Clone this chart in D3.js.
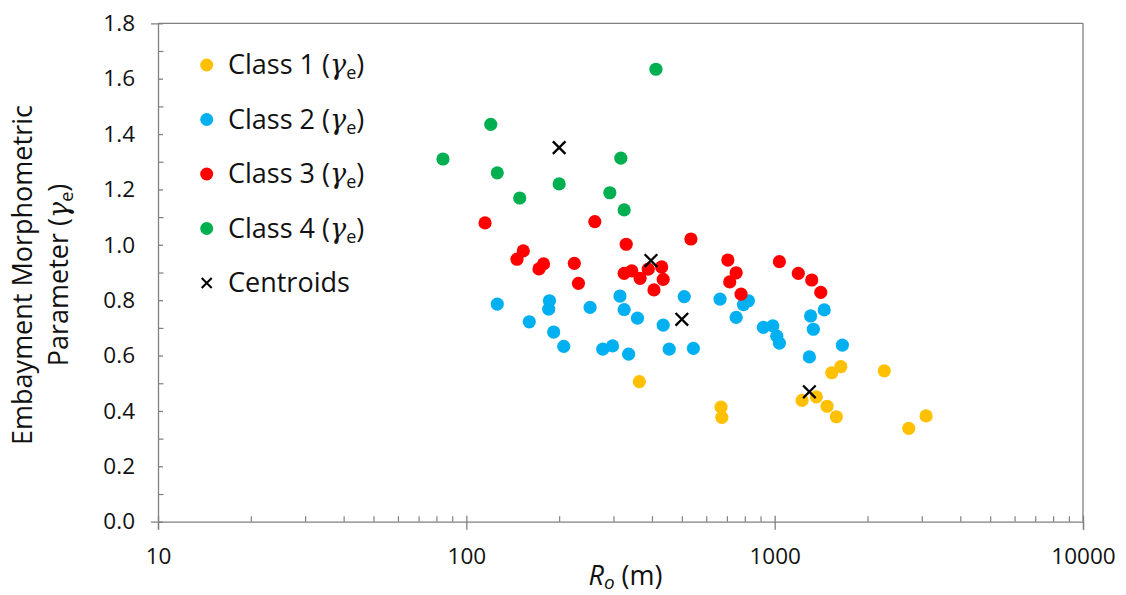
<!DOCTYPE html>
<html>
<head>
<meta charset="utf-8">
<script src="https://cdn.jsdelivr.net/npm/d3@7"></script>
<style>
  html, body { margin: 0; padding: 0; background: #fff; }
  svg { display: block; font-family: "Open Sans", "Liberation Sans", sans-serif; }
</style>
</head>
<body>
<svg id="chart" width="1126" height="595"></svg>
<script>
// ---- Data ----
const class1Ro = [364, 670, 674, 1532, 1639, 2268, 1227, 1365, 1479, 1585, 2722, 3098];
const class1Ge = [0.506, 0.414, 0.377, 0.538, 0.560, 0.545, 0.438, 0.451, 0.417, 0.379, 0.337, 0.382];

const class2Ro = [126, 186, 185, 160, 252, 192, 207, 277, 298, 315, 325, 359, 336, 509, 435, 455, 545, 665, 792, 822, 750, 919, 986, 1016, 1036, 1308, 1448, 1335, 1296, 1658];
const class2Ge = [0.786, 0.798, 0.768, 0.722, 0.774, 0.685, 0.633, 0.623, 0.635, 0.815, 0.766, 0.735, 0.605, 0.813, 0.710, 0.623, 0.626, 0.804, 0.784, 0.798, 0.738, 0.702, 0.707, 0.670, 0.645, 0.743, 0.765, 0.695, 0.595, 0.638];

const class3Ro = [115, 261, 535, 330, 153, 146, 178, 172, 224, 231, 325, 344, 366, 389, 430, 435, 406, 705, 750, 715, 778, 1036, 1193, 1319, 1411];
const class3Ge = [1.079, 1.084, 1.021, 1.002, 0.978, 0.948, 0.931, 0.913, 0.933, 0.861, 0.897, 0.906, 0.879, 0.912, 0.920, 0.875, 0.837, 0.945, 0.899, 0.866, 0.822, 0.939, 0.897, 0.873, 0.828];

const class4Ro = [412, 120, 84, 126, 200, 317, 149, 292, 325];
const class4Ge = [1.634, 1.435, 1.310, 1.260, 1.220, 1.313, 1.169, 1.188, 1.126];

const centroidRo = [1296, 500, 397, 200];
const centroidGe = [0.469, 0.731, 0.943, 1.351];

const seriesNames = ["Class 1", "Class 2", "Class 3", "Class 4"];
const seriesColors = ["#FFC000", "#00B0F0", "#FF0000", "#00B050"];
const xTickValues = [10, 100, 1000, 10000];
const yTickValues = [0, 0.2, 0.4, 0.6, 0.8, 1.0, 1.2, 1.4, 1.6, 1.8];

// ---- Layout ----
const svg = d3.select("#chart");
const plotL = 158, plotR = 1083, plotT = 23.3, plotB = 521.7;
const axisColor = "#808080";
const tickFont = 22.5, bigFont = 27;

const x = d3.scaleLog().domain([10, 10000]).range([plotL, plotR]);
const y = d3.scaleLinear().domain([0, 1.8]).range([plotB, plotT]);

// frame (top and right)
svg.append("line").attr("x1", plotL).attr("x2", plotR).attr("y1", plotT).attr("y2", plotT)
  .attr("stroke", axisColor).attr("stroke-width", 1.3);
svg.append("line").attr("x1", plotR).attr("x2", plotR).attr("y1", plotT).attr("y2", plotB)
  .attr("stroke", axisColor).attr("stroke-width", 1.3);

// x minor ticks (inside)
const xMinor = [];
for (let d = 10; d < 10000; d *= 10) for (let k = 2; k <= 9; k++) xMinor.push(d * k);
const xMinorAxis = d3.axisTop(x).tickValues(xMinor).tickSize(5.5).tickFormat("");
svg.append("g").attr("transform", `translate(0,${plotB})`).call(xMinorAxis)
  .call(g => g.select(".domain").remove())
  .call(g => g.selectAll("line").attr("stroke", axisColor).attr("stroke-width", 1.2));

// x major axis (crossing ticks)
const xAxis = d3.axisBottom(x).tickValues(xTickValues).tickSizeOuter(0).tickSize(8).tickPadding(18)
  .tickFormat(d3.format("d"));
const gx = svg.append("g").attr("transform", `translate(0,${plotB})`).call(xAxis);
gx.select(".domain").attr("stroke", axisColor).attr("stroke-width", 1.3);
gx.selectAll(".tick line").attr("stroke", axisColor).attr("stroke-width", 1.3).attr("y1", -6);
gx.selectAll(".tick text").attr("font-size", tickFont).attr("fill", "#111").attr("font-family", "Open Sans, sans-serif");

// y minor ticks (inside)
const yMinor = d3.range(0.1, 1.8, 0.2);
const yMinorAxis = d3.axisRight(y).tickValues(yMinor).tickSize(5.5).tickFormat("");
svg.append("g").attr("transform", `translate(${plotL},0)`).call(yMinorAxis)
  .call(g => g.select(".domain").remove())
  .call(g => g.selectAll("line").attr("stroke", axisColor).attr("stroke-width", 1.2));

// y major axis
const yAxis = d3.axisLeft(y).tickValues(yTickValues).tickSizeOuter(0).tickSize(7).tickPadding(16)
  .tickFormat(d3.format(".1f"));
const gy = svg.append("g").attr("transform", `translate(${plotL},0)`).call(yAxis);
gy.select(".domain").attr("stroke", axisColor).attr("stroke-width", 1.3);
gy.selectAll(".tick line").attr("stroke", axisColor).attr("stroke-width", 1.3).attr("x2", 5);
gy.selectAll(".tick text").attr("font-size", tickFont).attr("fill", "#111").attr("font-family", "Open Sans, sans-serif");

// ---- Points ----
const series = [
  [class1Ro, class1Ge], [class2Ro, class2Ge], [class3Ro, class3Ge], [class4Ro, class4Ge]
];
series.forEach(([ro, ge], i) => {
  const pts = ro.map((r, j) => ({ r, g: ge[j] }));
  svg.append("g").selectAll("circle").data(pts).join("circle")
    .attr("cx", d => x(d.r)).attr("cy", d => y(d.g)).attr("r", 6.6)
    .attr("fill", seriesColors[i]);
});

// centroids
const cpts = centroidRo.map((r, j) => ({ r, g: centroidGe[j] }));
const xPath = s => `M${-s},${-s}L${s},${s}M${-s},${s}L${s},${-s}`;
svg.append("g").selectAll("path").data(cpts).join("path")
  .attr("transform", d => `translate(${x(d.r)},${y(d.g)})`)
  .attr("d", xPath(6.3)).attr("stroke", "#000").attr("stroke-width", 2.3).attr("fill", "none");

// ---- Legend ----
const legX = 206.7, legY0 = 65, legDy = 54.5;
const leg = svg.append("g");
seriesNames.forEach((name, i) => {
  const cy = legY0 + i * legDy;
  leg.append("circle").attr("cx", legX).attr("cy", cy).attr("r", 6.5).attr("fill", seriesColors[i]);
  const t = leg.append("text").attr("x", 228).attr("y", cy + 9).attr("font-size", bigFont).attr("fill", "#111");
  t.append("tspan").text(name + " (");
  t.append("tspan").attr("font-style", "italic").attr("font-family", "DejaVu Serif, serif").text("γ");
  t.append("tspan").attr("font-size", 18).attr("dy", 5).text("e");
  t.append("tspan").attr("dy", -5).text(")");
});
{
  const cy = legY0 + 4 * legDy;
  leg.append("path").attr("transform", `translate(${legX},${cy})`).attr("d", xPath(5))
    .attr("stroke", "#000").attr("stroke-width", 2).attr("fill", "none");
  leg.append("text").attr("x", 228).attr("y", cy + 9).attr("font-size", bigFont).attr("fill", "#111").text("Centroids");
}

// ---- Axis titles ----
const yt = svg.append("text").attr("transform", "translate(0,275) rotate(-90)")
  .attr("text-anchor", "middle").attr("font-size", bigFont).attr("fill", "#111");
yt.append("tspan").attr("x", 0).attr("y", 32).text("Embayment Morphometric");
const yt2 = yt.append("tspan").attr("x", 0).attr("y", 68);
yt2.append("tspan").text("Parameter (");
yt2.append("tspan").attr("font-style", "italic").attr("font-family", "DejaVu Serif, serif").text("γ");
yt2.append("tspan").attr("font-size", 18).attr("dy", 5).text("e");
yt2.append("tspan").attr("dy", -5).text(")");

const xt = svg.append("text").attr("x", (plotL + plotR) / 2 + 5).attr("y", 585)
  .attr("text-anchor", "middle").attr("font-size", bigFont).attr("fill", "#111");
xt.append("tspan").attr("font-style", "italic").text("R");
xt.append("tspan").attr("font-style", "italic").attr("font-size", 19).attr("dy", 4).text("o");
xt.append("tspan").attr("dy", -4).text(" (m)");
</script>
</body>
</html>
